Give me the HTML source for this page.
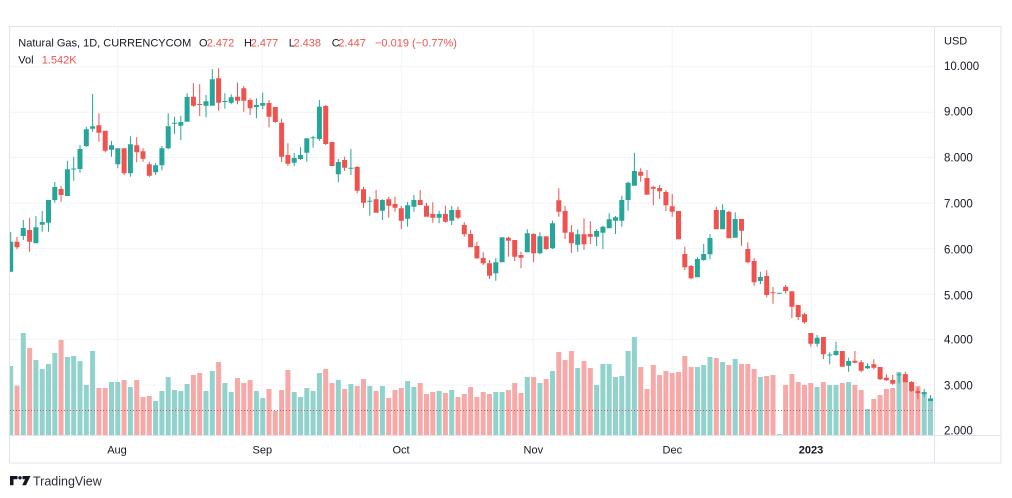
<!DOCTYPE html>
<html><head><meta charset="utf-8"><style>
html,body{margin:0;padding:0;background:#fff;width:1012px;height:498px;overflow:hidden}
svg{display:block}
text{font-family:"Liberation Sans",Arial,sans-serif}
</style></head><body>
<svg width="1012" height="498" viewBox="0 0 1012 498" xmlns="http://www.w3.org/2000/svg">
<defs><clipPath id="pc"><rect x="10" y="27" width="924" height="408"/></clipPath></defs>
<rect width="1012" height="498" fill="#fff"/>
<g stroke="#f0f3fa" stroke-width="1">
<path d="M10 66.8H934M10 112.2H934M10 157.5H934M10 203H934M10 248.7H934M10 294.2H934M10 339.6H934M10 385.1H934"/>
<path d="M117.7 27V435M262.3 27V435M401.3 27V435M533.3 27V435M672.3 27V435M811.3 27V435"/>
</g>
<g clip-path="url(#pc)">
<path fill="#92d2cc" d="M8.2 366h5V435h-5zM20.8 333h5V435h-5zM33.4 360h5V435h-5zM39.7 369h5V435h-5zM46 364h5V435h-5zM52.3 353h5V435h-5zM64.9 357h5V435h-5zM71.2 356h5V435h-5zM77.5 361h5V435h-5zM83.8 385h5V435h-5zM90.1 351h5V435h-5zM109 382h5V435h-5zM115.3 382h5V435h-5zM127.9 387h5V435h-5zM153.1 401h5V435h-5zM159.4 391h5V435h-5zM165.7 377h5V435h-5zM172 390h5V435h-5zM178.3 391h5V435h-5zM184.6 384h5V435h-5zM203.5 391h5V435h-5zM209.8 371h5V435h-5zM222.4 383h5V435h-5zM228.7 392h5V435h-5zM253.9 391h5V435h-5zM260.2 398h5V435h-5zM291.7 392h5V435h-5zM298 397h5V435h-5zM304.3 388h5V435h-5zM310.6 391h5V435h-5zM316.9 373h5V435h-5zM335.8 380h5V435h-5zM348.4 384h5V435h-5zM367.3 386h5V435h-5zM379.9 386h5V435h-5zM405.1 381h5V435h-5zM411.4 387h5V435h-5zM436.6 391h5V435h-5zM449.2 390h5V435h-5zM493.3 392h5V435h-5zM499.6 392h5V435h-5zM524.8 377h5V435h-5zM537.4 383h5V435h-5zM550 371h5V435h-5zM575.2 368h5V435h-5zM594.1 385h5V435h-5zM600.4 364h5V435h-5zM606.7 364h5V435h-5zM613 377h5V435h-5zM619.3 376h5V435h-5zM625.6 351h5V435h-5zM631.9 337h5V435h-5zM694.9 367h5V435h-5zM701.2 365h5V435h-5zM707.5 357h5V435h-5zM720.1 362h5V435h-5zM732.7 359h5V435h-5zM757.9 377h5V435h-5zM776.8 434h5V435h-5zM814.6 387h5V435h-5zM827.2 385h5V435h-5zM833.5 385h5V435h-5zM846.1 382h5V435h-5zM865 409h5V435h-5zM896.5 372h5V435h-5zM921.7 392h5V435h-5zM928 398h5V435h-5z"/>
<path fill="#f7a9a7" d="M14.5 385.7h5V435h-5zM27.1 348h5V435h-5zM58.6 340h5V435h-5zM96.4 388h5V435h-5zM102.7 388h5V435h-5zM121.6 380h5V435h-5zM134.2 380h5V435h-5zM140.5 397h5V435h-5zM146.8 396h5V435h-5zM190.9 375h5V435h-5zM197.2 373h5V435h-5zM216.1 362h5V435h-5zM235 378h5V435h-5zM241.3 383h5V435h-5zM247.6 380h5V435h-5zM266.5 389h5V435h-5zM272.8 411h5V435h-5zM279.1 390h5V435h-5zM285.4 370h5V435h-5zM323.2 369h5V435h-5zM329.5 383h5V435h-5zM342.1 389h5V435h-5zM354.7 386h5V435h-5zM361 379h5V435h-5zM373.6 391h5V435h-5zM386.2 398h5V435h-5zM392.5 390h5V435h-5zM398.8 388h5V435h-5zM417.7 383h5V435h-5zM424 394h5V435h-5zM430.3 392h5V435h-5zM442.9 393h5V435h-5zM455.5 397h5V435h-5zM461.8 394h5V435h-5zM468.1 387h5V435h-5zM474.4 397h5V435h-5zM480.7 392h5V435h-5zM487 394h5V435h-5zM505.9 390h5V435h-5zM512.2 383h5V435h-5zM518.5 393h5V435h-5zM531.1 377h5V435h-5zM543.7 379h5V435h-5zM556.3 352h5V435h-5zM562.6 360h5V435h-5zM568.9 351h5V435h-5zM581.5 361h5V435h-5zM587.8 368h5V435h-5zM638.2 367h5V435h-5zM644.5 389h5V435h-5zM650.8 365h5V435h-5zM657.1 375h5V435h-5zM663.4 371h5V435h-5zM669.7 373h5V435h-5zM676 372h5V435h-5zM682.3 356h5V435h-5zM688.6 367h5V435h-5zM713.8 358h5V435h-5zM726.4 365h5V435h-5zM739 364h5V435h-5zM745.3 364h5V435h-5zM751.6 369h5V435h-5zM764.2 376h5V435h-5zM770.5 375h5V435h-5zM783.1 385h5V435h-5zM789.4 374h5V435h-5zM795.7 382h5V435h-5zM802 385h5V435h-5zM808.3 383h5V435h-5zM820.9 382h5V435h-5zM839.8 383h5V435h-5zM852.4 385h5V435h-5zM858.7 390h5V435h-5zM871.3 399h5V435h-5zM877.6 395h5V435h-5zM883.9 389h5V435h-5zM890.2 388h5V435h-5zM902.8 374h5V435h-5zM909.1 382h5V435h-5zM915.4 386h5V435h-5z"/>
<path d="M10 410.5H934" stroke="#c95a5c" stroke-width="1" stroke-dasharray="1 2"/>
<path fill="#26a69a" d="M10.2 232h1v40h-1zM8.2 241.7h5v30h-5zM22.8 220h1v20h-1zM20.8 228h5v8h-5zM35.4 216h1v27.3h-1zM33.4 227.3h5v16h-5zM41.7 211h1v20.7h-1zM39.7 222h5v2.7h-5zM48 200h1v31.7h-1zM46 200h5v22.7h-5zM54.3 182h1v20.7h-1zM52.3 187h5v13h-5zM66.9 160.7h1v35.3h-1zM64.9 169.3h5v26.7h-5zM73.2 156.7h1v24h-1zM71.2 168.5h5v1h-5zM79.5 145h1v27.7h-1zM77.5 149h5v20h-5zM85.8 126.7h1v20.6h-1zM83.8 129.3h5v16.7h-5zM92.1 94h1v37.7h-1zM90.1 126.3h5v2.4h-5zM111 141h1v15.7h-1zM109 145.3h5v4.4h-5zM117.3 148.3h1v20h-1zM115.3 148.3h5v16h-5zM129.9 136.3h1v40.4h-1zM127.9 144.3h5v29h-5zM155.1 163.3h1v11.7h-1zM153.1 165.3h5v7h-5zM161.4 146h1v24.3h-1zM159.4 148.3h5v17h-5zM167.7 113.3h1v36h-1zM165.7 126.3h5v22h-5zM174 116.7h1v17.3h-1zM172 122.8h5v1h-5zM180.3 116h1v24h-1zM178.3 122h5v3.7h-5zM186.6 93.3h1v28.4h-1zM184.6 97h5v24.7h-5zM205.5 95h1v22.3h-1zM203.5 101.3h5v4.4h-5zM211.8 69.3h1v36.4h-1zM209.8 79.3h5v26.4h-5zM224.4 93.3h1v15.4h-1zM222.4 101h5v1h-5zM230.7 94.3h1v10h-1zM228.7 97.3h5v5.4h-5zM255.9 98.3h1v20h-1zM253.9 105h5v2h-5zM262.2 92.7h1v16.6h-1zM260.2 103h5v2.7h-5zM293.7 153h1v13h-1zM291.7 158h5v4.7h-5zM300 147.3h1v12.7h-1zM298 155h5v4h-5zM306.3 138.3h1v23.4h-1zM304.3 138.3h5v14.4h-5zM312.6 135.7h1v12h-1zM310.6 137.2h5v1h-5zM318.9 100h1v40.7h-1zM316.9 106.7h5v32.3h-5zM337.8 159h1v23.3h-1zM335.8 162h5v12.3h-5zM350.4 149h1v26h-1zM348.4 167.8h5v1h-5zM369.3 196.7h1v19h-1zM367.3 200.8h5v1h-5zM381.9 199.3h1v20.7h-1zM379.9 200h5v10.7h-5zM407.1 202h1v24.7h-1zM405.1 205.3h5v13.4h-5zM413.4 195h1v16.7h-1zM411.4 200h5v6.7h-5zM438.6 210.7h1v12.6h-1zM436.6 214h5v3.7h-5zM451.2 206h1v19h-1zM449.2 210h5v10.7h-5zM495.3 258.3h1v22.4h-1zM493.3 262.3h5v11h-5zM501.6 237.3h1v25h-1zM499.6 237.3h5v25h-5zM526.8 229.3h1v23h-1zM524.8 233.3h5v19h-5zM539.4 232.3h1v22h-1zM537.4 236.3h5v17h-5zM552 220.7h1v28.3h-1zM550 223.3h5v25h-5zM577.2 229.3h1v22.4h-1zM575.2 234.3h5v10.4h-5zM596.1 229.3h1v16.7h-1zM594.1 231h5v5.7h-5zM602.4 225.7h1v23.3h-1zM600.4 226.7h5v6h-5zM608.7 213.3h1v15h-1zM606.7 219.3h5v9h-5zM615 216h1v18h-1zM613 217.3h5v3.4h-5zM621.3 195.7h1v31h-1zM619.3 200h5v20.7h-5zM627.6 181.7h1v29h-1zM625.6 182.7h5v17.3h-5zM633.9 152.7h1v33h-1zM631.9 171h5v14.7h-5zM696.9 257.3h1v20h-1zM694.9 259h5v18.3h-5zM703.2 244h1v16.7h-1zM701.2 254h5v6h-5zM709.5 234h1v25.3h-1zM707.5 238h5v16.3h-5zM722.1 204.3h1v25h-1zM720.1 210h5v19.3h-5zM734.7 212.3h1v25.4h-1zM732.7 219h5v18.7h-5zM759.9 271.7h1v12.6h-1zM757.9 277h5v4h-5zM776.8 292.8h5v1h-5zM816.6 335h1v11.7h-1zM814.6 337.7h5v6h-5zM829.2 352.3h1v12h-1zM827.2 354.5h5v1h-5zM835.5 341.7h1v14h-1zM833.5 351h5v4h-5zM848.1 357.7h1v14h-1zM846.1 361h5v4.7h-5zM867 363.3h1v5.7h-1zM865 366h5v2.3h-5zM898.5 372.7h1v10.6h-1zM896.5 374.3h5v1h-5zM923.7 389h1v7.7h-1zM921.7 392.3h5v1.7h-5zM930 395h1v6h-1zM928 399h5v2h-5z"/>
<path fill="#ef5350" d="M16.5 236.7h1v12.6h-1zM14.5 241.7h5v5.6h-5zM29.1 218h1v33.7h-1zM27.1 230h5v11.7h-5zM60.6 185.7h1v16h-1zM58.6 189h5v6h-5zM98.4 113.3h1v28.4h-1zM96.4 125.3h5v7.4h-5zM104.7 130.7h1v21.6h-1zM102.7 130.7h5v20h-5zM123.6 148.3h1v26.7h-1zM121.6 148.3h5v25h-5zM136.2 137.3h1v25h-1zM134.2 145.3h5v7h-5zM142.5 148.3h1v13.4h-1zM140.5 151.3h5v7.4h-5zM148.8 161.7h1v15.6h-1zM146.8 164.3h5v11.4h-5zM192.9 83.3h1v23.4h-1zM190.9 96.7h5v9h-5zM199.2 84.3h1v31.7h-1zM197.2 104h5v1h-5zM218.1 68.3h1v42.4h-1zM216.1 78.3h5v24.4h-5zM237 82.7h1v21.6h-1zM235 96.7h5v4h-5zM243.3 86h1v25.7h-1zM241.3 88.3h5v12.4h-5zM249.6 98.3h1v16.7h-1zM247.6 100h5v8.3h-5zM268.5 100h1v27.3h-1zM266.5 103h5v13.7h-5zM274.8 107h1v15.7h-1zM272.8 107h5v15h-5zM281.1 118.7h1v43.3h-1zM279.1 122.7h5v34h-5zM287.4 143.3h1v22.7h-1zM285.4 155h5v8.7h-5zM325.2 105h1v40h-1zM323.2 106h5v38h-5zM331.5 142h1v24h-1zM329.5 142h5v24h-5zM344.1 156.7h1v14.3h-1zM342.1 160h5v7.7h-5zM356.7 166h1v27.3h-1zM354.7 167h5v23.7h-5zM363 186.7h1v21h-1zM361 189.3h5v13.4h-5zM375.6 190h1v22.7h-1zM373.6 199.3h5v13.4h-5zM388.2 196.7h1v21h-1zM386.2 199.3h5v6.4h-5zM394.5 196.7h1v15h-1zM392.5 204h5v3.7h-5zM400.8 206h1v23h-1zM398.8 208.3h5v12.4h-5zM419.7 190h1v15h-1zM417.7 200h5v5h-5zM426 202.7h1v14h-1zM424 205.7h5v11h-5zM432.3 202.3h1v20.4h-1zM430.3 214h5v3.7h-5zM444.9 205.7h1v17h-1zM442.9 214h5v7.7h-5zM457.5 206.7h1v12.6h-1zM455.5 210h5v7.7h-5zM463.8 222.3h1v14.4h-1zM461.8 225h5v9.3h-5zM470.1 230h1v17.3h-1zM468.1 234h5v13.3h-5zM476.4 241.7h1v17.3h-1zM474.4 246h5v12.3h-5zM482.7 252.3h1v12.7h-1zM480.7 258h5v5.3h-5zM489 260h1v19h-1zM487 263.3h5v12.4h-5zM507.9 236.7h1v20h-1zM505.9 237.7h5v3h-5zM514.2 240h1v21h-1zM512.2 240h5v16.7h-5zM520.5 251.7h1v16.6h-1zM518.5 255h5v2.7h-5zM533.1 233.3h1v29h-1zM531.1 234h5v19.3h-5zM545.7 236.3h1v13.7h-1zM543.7 236.3h5v12.7h-5zM558.3 188.3h1v28.4h-1zM556.3 200.3h5v11.4h-5zM564.6 206h1v33h-1zM562.6 211h5v21.7h-5zM570.9 225h1v27.7h-1zM568.9 232.3h5v11h-5zM583.5 218.3h1v31.7h-1zM581.5 234.3h5v10h-5zM589.8 221h1v23h-1zM587.8 234h5v2.7h-5zM640.2 168.3h1v13.4h-1zM638.2 171.7h5v4h-5zM646.5 170h1v24.7h-1zM644.5 178h5v16.7h-5zM652.8 185.7h1v19.6h-1zM650.8 187h5v1.7h-5zM659.1 185h1v14h-1zM657.1 188h5v3.3h-5zM665.4 190h1v21h-1zM663.4 192h5v13.3h-5zM671.7 194h1v22.7h-1zM669.7 206.3h5v5.4h-5zM678 211h1v28.3h-1zM676 211h5v28.3h-5zM684.3 246.7h1v23.3h-1zM682.3 254h5v13.3h-5zM690.6 265h1v14.3h-1zM688.6 266h5v12.3h-5zM715.8 206.7h1v22.6h-1zM713.8 210h5v19.3h-5zM728.4 211h1v27.3h-1zM726.4 211.7h5v26.6h-5zM741 219h1v26.7h-1zM739 219h5v11.7h-5zM747.3 242.3h1v21h-1zM745.3 249h5v13.3h-5zM753.6 258.3h1v27.4h-1zM751.6 261h5v21.3h-5zM766.2 270.3h1v27h-1zM764.2 276h5v19h-5zM772.5 287h1v16.7h-1zM770.5 292.2h5v1h-5zM785.1 285h1v8.7h-1zM783.1 286.7h5v4.3h-5zM791.4 291.3h1v27h-1zM789.4 291.3h5v15.4h-5zM797.7 305h1v15h-1zM795.7 305h5v12h-5zM804 312.7h1v11h-1zM802 314.3h5v8h-5zM810.3 333h1v13.7h-1zM808.3 333h5v10.7h-5zM822.9 337h1v22h-1zM820.9 337h5v17.3h-5zM841.8 351h1v15.7h-1zM839.8 351h5v15.7h-5zM854.4 351h1v12.3h-1zM852.4 360.7h5v2h-5zM860.7 360h1v12.3h-1zM858.7 362.3h5v8.4h-5zM873.3 359.3h1v10h-1zM871.3 364.3h5v3.4h-5zM879.6 367h1v13h-1zM877.6 367h5v12.3h-5zM885.9 374.3h1v6.7h-1zM883.9 377.7h5v2.6h-5zM892.2 375h1v10h-1zM890.2 380h5v3.7h-5zM904.8 371.7h1v10.6h-1zM902.8 374.3h5v8h-5zM911.1 381h1v11h-1zM909.1 382h5v9h-5zM917.4 387.7h1v11.3h-1zM915.4 391h5v2.3h-5z"/>
</g>
<g stroke="#e0e3eb" stroke-width="1" fill="none">
<rect x="9.5" y="26.5" width="991.5" height="436.5"/>
<path d="M934.5 27V463M10 435.5H1001"/>
</g>
<g font-size="11" fill="#131722">
<text x="18.3" y="46.7">Natural Gas, 1D, CURRENCYCOM</text>
<text x="199" y="46.7">O</text><text x="206.7" y="46.7" fill="#ef5350">2.472</text>
<text x="244" y="46.7">H</text><text x="250.7" y="46.7" fill="#ef5350">2.477</text>
<text x="288.7" y="46.7">L</text><text x="293.5" y="46.7" fill="#ef5350">2.438</text>
<text x="331.7" y="46.7">C</text><text x="338.3" y="46.7" fill="#ef5350">2.447</text>
<text x="375" y="46.7" fill="#ef5350">−0.019 (−0.77%)</text>
<text x="18.3" y="63.3">Vol</text><text x="41.7" y="63.3" fill="#ef5350">1.542K</text>
</g>
<g font-size="11.5" fill="#131722">
<text x="944" y="44.7" font-size="11">USD</text>
<text x="944" y="70">10.000</text>
<text x="944" y="115.7">9.000</text>
<text x="944" y="161.3">8.000</text>
<text x="944" y="207.3">7.000</text>
<text x="944" y="253.3">6.000</text>
<text x="944" y="299.3">5.000</text>
<text x="944" y="343.3">4.000</text>
<text x="944" y="389.3">3.000</text>
<text x="944" y="434.7">2.000</text>
</g>
<g font-size="11" fill="#131722" text-anchor="middle">
<text x="117" y="453.3">Aug</text>
<text x="262.3" y="453.3">Sep</text>
<text x="401" y="453.3">Oct</text>
<text x="533.3" y="453.3">Nov</text>
<text x="672.3" y="453.3">Dec</text>
<text x="811" y="453.3" font-weight="bold">2023</text>
</g>
<g fill="#131722">
<path d="M10 476h7.5v3.2h-4v6h-3.5z"/>
<circle cx="20" cy="477.8" r="1.7"/>
<path d="M22.5 476h8l-4.5 9.3h-3.8l2.9-6h-2.6z"/>
</g>
<text x="33" y="485.5" font-size="12.5" fill="#2a2e39">TradingView</text>
</svg>
</body></html>
